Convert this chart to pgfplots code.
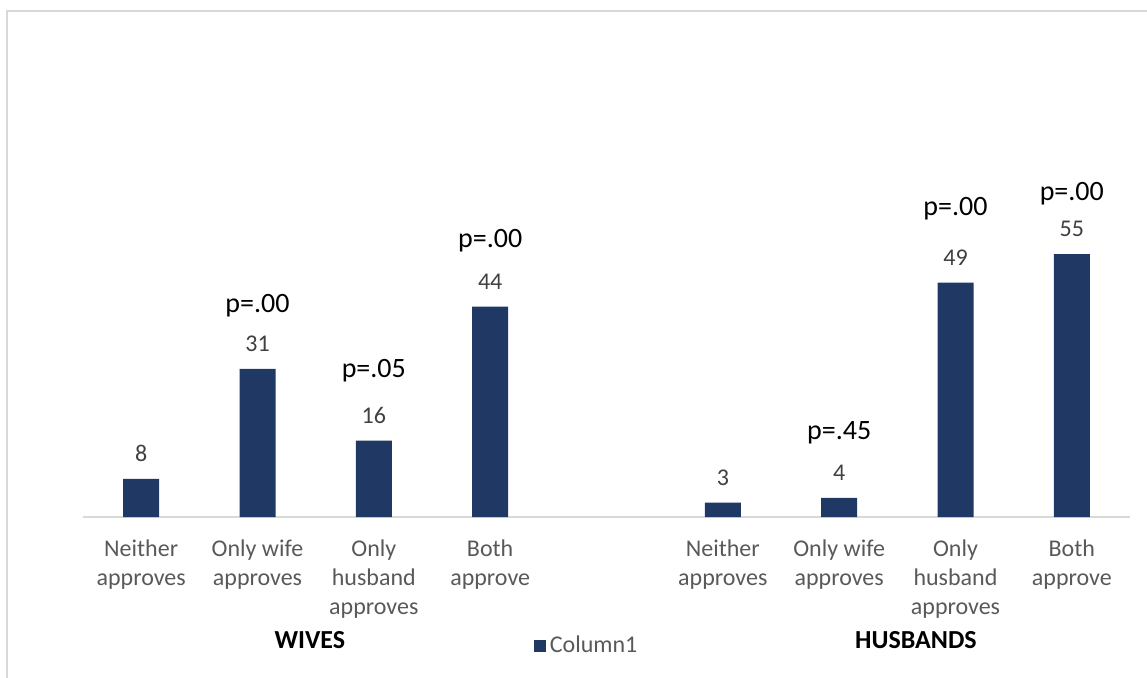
\documentclass[border=0pt]{standalone}
\usepackage{fontspec}
\setmainfont{Carlito}
\usepackage{pgfplots}
\pgfplotsset{compat=1.18}
\definecolor{barblue}{HTML}{203864}
\definecolor{linegray}{HTML}{D9D9D9}
\definecolor{labelgray}{HTML}{595959}
\definecolor{valgray}{HTML}{404040}

\begin{document}
\begin{tikzpicture}[x=1pt,y=1pt]
\useasboundingbox (0,0) rectangle (573.5,-338.5);
% chart frame
\begin{scope}
  \clip (0,0) rectangle (573.5,-338.5);
  \draw[linegray, line width=0.8pt] (3.6,-5.6) rectangle (620,-420);
\end{scope}
\begin{axis}[
  at={(41.5pt,-258.5pt)}, anchor=south west,
  scale only axis, width=523.5pt, height=239.1pt,
  xmin=-0.5, xmax=8.5, ymin=0, ymax=100,
  /pgf/number format/assume math mode=true,
  axis y line=none, axis x line*=bottom,
  x axis line style={linegray, line width=1pt},
  xtick={0,1,2,3,5,6,7,8},
  major tick length=0pt,
  xticklabels={{Neither\\approves},{Only wife\\approves},{Only\\husband\\approves},{Both\\approve},
               {Neither\\approves},{Only wife\\approves},{Only\\husband\\approves},{Both\\approve}},
  xticklabel style={font=\fontsize{12}{14.6}\selectfont, text=labelgray, align=center,
                    anchor=north, inner sep=0pt, yshift=-11pt},
  clip=false,
  legend style={at={(0.4820,-0.27)}, anchor=center, draw=none, fill=none,
                font=\fontsize{12}{14.6}\selectfont, text=labelgray, inner sep=0pt},
]
\addplot[ybar, bar width=18pt, fill=barblue, draw=none,
  nodes near coords,
  every node near coord/.append style={font=\fontsize{12}{14.6}\selectfont, text=valgray,
                                       anchor=base, yshift=8.7pt},
  legend image code/.code={\fill[barblue] (0pt,-3pt) rectangle (6pt,3pt);}]
  coordinates {(0,8) (1,31) (2,16) (3,44) (5,3) (6,4) (7,49) (8,55)};
\addlegendentry{Column1}

% significance annotations
\begin{scope}[every node/.style={font=\fontsize{14}{17}\selectfont, text=black}]
  \node at (axis cs:1,44.3) {p=.00};
  \node at (axis cs:2,30.5) {p=.05};
  \node at (axis cs:3,57.7) {p=.00};
  \node at (axis cs:6,17.6) {p=.45};
  \node at (axis cs:7,64.4) {p=.00};
  \node at (axis cs:8,67.6) {p=.00};
\end{scope}

% group captions
\node[font=\bfseries\fontsize{13}{16}\selectfont, yshift=-61.5pt] at (axis cs:1.45,0) {WIVES};
\node[font=\bfseries\fontsize{13}{16}\selectfont, yshift=-61.5pt] at (axis cs:6.66,0) {HUSBANDS};
\end{axis}
\end{tikzpicture}
\end{document}
